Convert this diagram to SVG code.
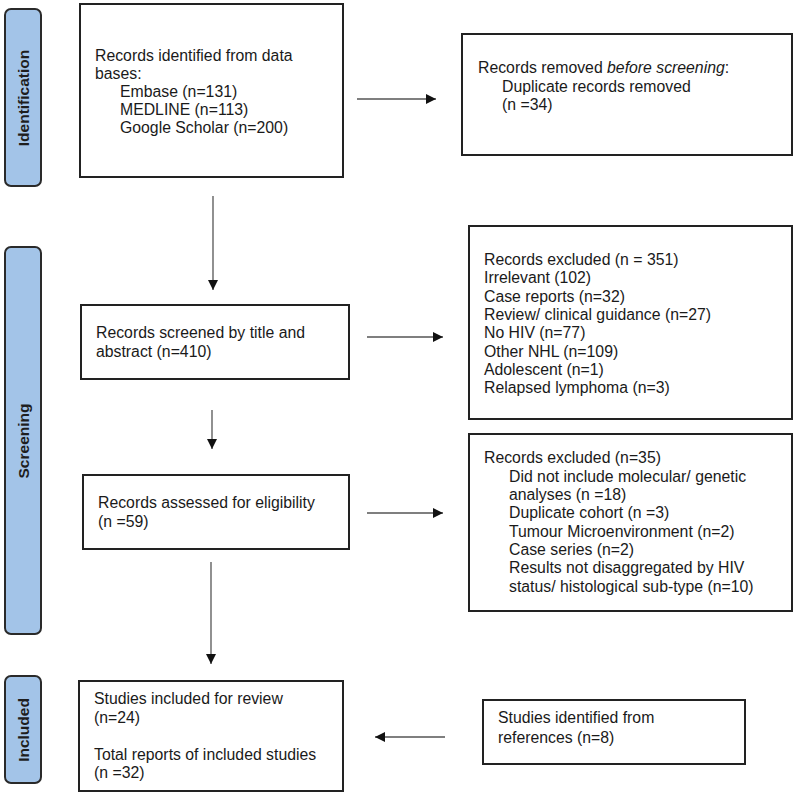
<svg xmlns="http://www.w3.org/2000/svg" width="796" height="794" viewBox="0 0 796 794">
<style>
  .box { fill: #ffffff; stroke: #222222; stroke-width: 2; }
  .bar { fill: #a3c4e8; stroke: #2a2a2a; stroke-width: 2; }
  .t { font-family: "Liberation Sans", Arial, sans-serif; font-size: 15.8px; fill: #1a1a1a; }
  .lbl { font-family: "Liberation Sans", Arial, sans-serif; font-size: 15.5px; font-weight: bold; fill: #1e1e1e; text-anchor: middle; }
  .c { stroke: #555555; stroke-width: 1.3; fill: none; marker-end: url(#ah); }
</style>
<defs>
  <marker id="ah" viewBox="0 0 10 10" refX="10" refY="5" markerWidth="11" markerHeight="10" markerUnits="userSpaceOnUse" orient="auto">
    <path d="M0,0 L10,5 L0,10 Z" fill="#111111"/>
  </marker>
</defs>
<rect width="796" height="794" fill="#ffffff"/>

<g id="bar-identification">
  <rect class="bar" x="5" y="9" width="36" height="177" rx="6"/>
  <text class="lbl" transform="translate(28.5,98) rotate(-90)">Identification</text>
</g>
<g id="bar-screening">
  <rect class="bar" x="5" y="247" width="36" height="387" rx="6"/>
  <text class="lbl" transform="translate(28.5,441) rotate(-90)">Screening</text>
</g>
<g id="bar-included">
  <rect class="bar" x="5" y="676" width="36" height="107" rx="6"/>
  <text class="lbl" transform="translate(28.5,730) rotate(-90)">Included</text>
</g>

<g id="connectors">
  <line class="c" x1="357" y1="99" x2="436" y2="99"/>
  <line class="c" x1="213" y1="196" x2="213" y2="290"/>
  <line class="c" x1="367" y1="337" x2="443" y2="337"/>
  <line class="c" x1="212" y1="410" x2="212" y2="449"/>
  <line class="c" x1="367" y1="513" x2="443" y2="513"/>
  <line class="c" x1="211" y1="562" x2="211" y2="664"/>
  <line class="c" x1="445" y1="737" x2="375" y2="737"/>
</g>

<g id="node-identified">
  <rect class="box" x="80" y="4" width="263" height="173"/>
  <text class="t" x="95" y="61">Records identified from data</text>
  <text class="t" x="95" y="79">bases:</text>
  <text class="t" x="120" y="97">Embase (n=131)</text>
  <text class="t" x="120" y="115">MEDLINE (n=113)</text>
  <text class="t" x="120" y="133">Google Scholar (n=200)</text>
</g>

<g id="node-removed">
  <rect class="box" x="462" y="34" width="330" height="121"/>
  <text class="t" x="478" y="73">Records removed <tspan font-style="italic">before screening</tspan>:</text>
  <text class="t" x="502" y="92">Duplicate records removed</text>
  <text class="t" x="502" y="110">(n =34)</text>
</g>

<g id="node-screened">
  <rect class="box" x="81" y="305" width="268" height="74"/>
  <text class="t" x="96" y="338">Records screened by title and</text>
  <text class="t" x="96" y="357">abstract (n=410)</text>
</g>

<g id="node-excluded1">
  <rect class="box" x="469" y="226" width="323" height="193"/>
  <text class="t" x="484" y="265">Records excluded (n = 351)</text>
  <text class="t" x="484" y="283">Irrelevant (102)</text>
  <text class="t" x="484" y="302">Case reports (n=32)</text>
  <text class="t" x="484" y="320">Review/ clinical guidance (n=27)</text>
  <text class="t" x="484" y="338">No HIV (n=77)</text>
  <text class="t" x="484" y="357">Other NHL (n=109)</text>
  <text class="t" x="484" y="375">Adolescent (n=1)</text>
  <text class="t" x="484" y="393">Relapsed lymphoma (n=3)</text>
</g>

<g id="node-eligibility">
  <rect class="box" x="83" y="475" width="266" height="74"/>
  <text class="t" x="98" y="508">Records assessed for eligibility</text>
  <text class="t" x="98" y="527">(n =59)</text>
</g>

<g id="node-excluded2">
  <rect class="box" x="469" y="434" width="323" height="177"/>
  <text class="t" x="484" y="463">Records excluded (n=35)</text>
  <text class="t" x="509" y="482">Did not include molecular/ genetic</text>
  <text class="t" x="509" y="500">analyses (n =18)</text>
  <text class="t" x="509" y="518">Duplicate cohort (n =3)</text>
  <text class="t" x="509" y="537">Tumour Microenvironment (n=2)</text>
  <text class="t" x="509" y="555">Case series (n=2)</text>
  <text class="t" x="509" y="573">Results not disaggregated by HIV</text>
  <text class="t" x="509" y="592">status/ histological sub-type (n=10)</text>
</g>

<g id="node-included">
  <rect class="box" x="79" y="681" width="264" height="110"/>
  <text class="t" x="94" y="704">Studies included for review</text>
  <text class="t" x="94" y="723">(n=24)</text>
  <text class="t" x="94" y="760">Total reports of included studies</text>
  <text class="t" x="94" y="778">(n =32)</text>
</g>

<g id="node-references">
  <rect class="box" x="483" y="700" width="262" height="64"/>
  <text class="t" x="498" y="723">Studies identified from</text>
  <text class="t" x="498" y="743">references (n=8)</text>
</g>
</svg>
